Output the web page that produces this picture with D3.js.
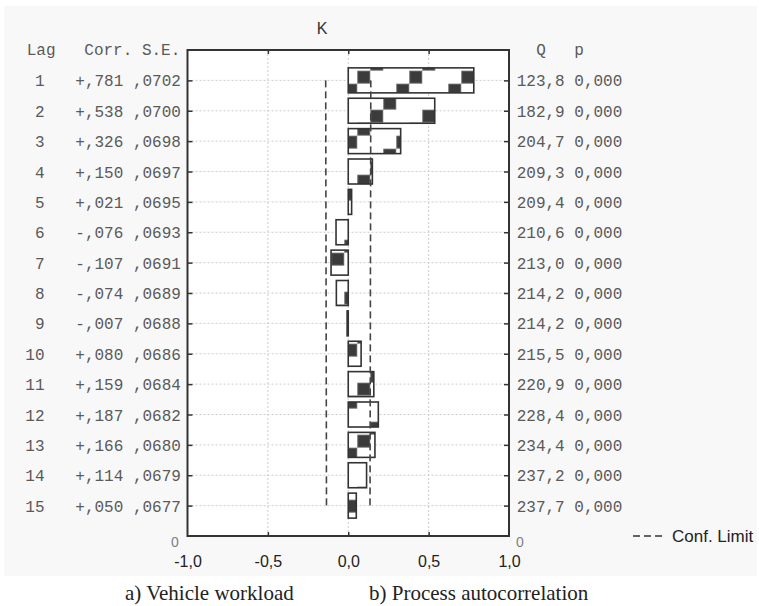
<!DOCTYPE html>
<meta charset="utf-8">
<style>
body {
	margin: 0;
	background: #fff;
}
svg {
	display: block;
}
.mono {
	font: 16px "Liberation Mono", "Courier New", monospace;
	fill: #5a5a5a;
}
.axis path {
	display: none;
}
.axis line {
	stroke: #333;
	stroke-width: 1.5;
}
.x.axis .tick text {
	font: 16px "Liberation Sans", Arial, sans-serif;
	fill: #222;
}
.grid line {
	stroke: #ccc;
	stroke-width: 1;
	stroke-dasharray: 2,2;
}
.zero {
	font: 14px "Liberation Sans", Arial, sans-serif;
	fill: #808080;
}
</style>
<body>
<svg></svg>
<script src="https://d3js.org/d3.v7.min.js"></script>
<script>

var lags = [1, 2, 3, 4, 5, 6, 7, 8, 9, 10, 11, 12, 13, 14, 15];
var corr = [0.781, 0.538, 0.326, 0.150, 0.021, -0.076, -0.107, -0.074, -0.007, 0.080, 0.159, 0.187, 0.166, 0.114, 0.050];
var se = [0.0702, 0.0700, 0.0698, 0.0697, 0.0695, 0.0693, 0.0691, 0.0689, 0.0688, 0.0686, 0.0684, 0.0682, 0.0680, 0.0679, 0.0677];
var qstat = [123.8, 182.9, 204.7, 209.3, 209.4, 210.6, 213.0, 214.2, 214.2, 215.5, 220.9, 228.4, 234.4, 237.2, 237.7];
var pval = [0, 0, 0, 0, 0, 0, 0, 0, 0, 0, 0, 0, 0, 0, 0];
var xticks = [-1, -0.5, 0, 0.5, 1];

var width = 759, height = 606;
var plot = {left: 187.5, right: 509, top: 50, bottom: 536};

var svg = d3.select("svg")
	.attr("width", width)
	.attr("height", height);

var xscale = d3.scaleLinear()
	.domain([-1, 1])
	.range([plot.left, plot.right]);

// lag positions: 16 slots, lag 1 on top
var yscale = d3.scaleLinear()
	.domain([0, 16])
	.range([plot.top, plot.bottom]);
var ylag = function(l) { return yscale(l); };

var comma = function(s) { return s.replace(".", ",").replace("\u2212", "-"); };

// grey panel behind the chart
svg.append("rect")
	.attr("x", 4).attr("y", 6)
	.attr("width", 753).attr("height", 570)
	.attr("fill", "#f8f8f8");

// plot area
svg.append("rect")
	.attr("x", plot.left).attr("y", plot.top)
	.attr("width", plot.right - plot.left)
	.attr("height", plot.bottom - plot.top)
	.attr("fill", "#fff");

// pattern for the bars: dark squares on a diagonal
var cell = 13;
var defs = svg.append("defs");
var pat = defs.append("pattern")
	.attr("id", "checks")
	.attr("patternUnits", "userSpaceOnUse")
	.attr("x", xscale(0) + 9)
	.attr("y", ylag(1) - 9.7)
	.attr("width", cell * 4)
	.attr("height", cell * 4);
pat.append("rect")
	.attr("width", cell * 4).attr("height", cell * 4)
	.attr("fill", "#fff");
[[0, 0], [1, 3], [2, 2], [3, 1]].forEach(function(c) {
	pat.append("rect")
		.attr("x", c[0] * cell + 0.5).attr("y", c[1] * cell + 0.5)
		.attr("width", cell - 1).attr("height", cell - 1)
		.attr("fill", "#3b3b3b")
		.attr("stroke", "#666")
		.attr("stroke-width", 1);
});

// grid
var grid = svg.append("g").attr("class", "grid");
grid.selectAll(".h")
	.data(lags)
	.enter().append("line")
	.attr("x1", plot.left).attr("x2", plot.right)
	.attr("y1", function(d) { return ylag(d); })
	.attr("y2", function(d) { return ylag(d); });
grid.selectAll(".v")
	.data([-0.5, 0, 0.5])
	.enter().append("line")
	.attr("x1", function(d) { return xscale(d); })
	.attr("x2", function(d) { return xscale(d); })
	.attr("y1", plot.top).attr("y2", plot.bottom);

// bars
svg.selectAll(".bar")
	.data(corr)
	.enter().append("rect")
	.attr("class", "bar")
	.attr("x", function(d) { return xscale(Math.min(0, d)); })
	.attr("width", function(d) { return Math.max(1, Math.abs(xscale(d) - xscale(0))); })
	.attr("y", function(d, i) { return ylag(lags[i]) - 12.5; })
	.attr("height", 25)
	.attr("fill", "url(#checks)")
	.attr("stroke", "#333")
	.attr("stroke-width", 1.6);

// confidence limits
var confLine = d3.line()
	.x(function(d) { return xscale(d[0]); })
	.y(function(d) { return ylag(d[1]) ; });
[1, -1].forEach(function(s) {
	svg.append("path")
		.attr("d", confLine(se.map(function(v, i) { return [s * 2 * v, lags[i]]; })))
		.attr("fill", "none")
		.attr("stroke", "#444")
		.attr("stroke-width", 1.6)
		.attr("stroke-dasharray", "7,4");
});

// axes
var xaxis = d3.axisBottom(xscale)
	.tickValues(xticks)
	.tickSize(-4)
	.tickPadding(20)
	.tickFormat(function(d) { return comma(d3.format(".1f")(d)); });
svg.append("g")
	.attr("class", "x axis")
	.attr("transform", "translate(0," + plot.bottom + ")")
	.call(xaxis)
	.selectAll(".tick line").filter(function(d) { return d == -1 || d == 1; }).remove();

svg.append("g")
	.attr("class", "x axis")
	.attr("transform", "translate(0," + plot.top + ")")
	.call(d3.axisTop(xscale).tickValues([-0.5, 0, 0.5]).tickSize(-4).tickFormat(""));

svg.append("g")
	.attr("class", "y axis")
	.attr("transform", "translate(" + plot.left + ",0)")
	.call(d3.axisLeft(yscale).tickValues(lags).tickSize(-5).tickFormat(""));

svg.append("g")
	.attr("class", "y axis")
	.attr("transform", "translate(" + plot.right + ",0)")
	.call(d3.axisRight(yscale).tickValues(lags).tickSize(-5).tickFormat(""));

// frame
svg.append("rect")
	.attr("x", plot.left).attr("y", plot.top)
	.attr("width", plot.right - plot.left)
	.attr("height", plot.bottom - plot.top)
	.attr("fill", "none")
	.attr("stroke", "#333")
	.attr("stroke-width", 2);

// table on the left
svg.append("text").attr("class", "mono")
	.attr("x", 26.7).attr("y", 55)
	.text("Lag");
svg.append("text").attr("class", "mono")
	.attr("x", 84.3).attr("y", 55)
	.text("Corr. S.E.");

svg.selectAll(".lag")
	.data(lags)
	.enter().append("text")
	.attr("class", "mono")
	.attr("text-anchor", "end")
	.attr("x", 44.5)
	.attr("y", function(d) { return ylag(d) + 6; })
	.text(function(d) { return d; });

svg.selectAll(".corr")
	.data(corr)
	.enter().append("text")
	.attr("class", "mono")
	.attr("x", 75.3)
	.attr("y", function(d, i) { return ylag(lags[i]) + 6; })
	.text(function(d, i) {
		var c = (d < 0 ? "-" : "+") + comma(d3.format(".3f")(Math.abs(d))).slice(1);
		var s = comma(d3.format(".4f")(se[i])).slice(1);
		return c + " " + s;
	});

// table on the right
svg.append("text").attr("class", "mono")
	.attr("x", 541).attr("y", 55)
	.attr("text-anchor", "middle")
	.text("Q");
svg.append("text").attr("class", "mono")
	.attr("x", 579).attr("y", 55)
	.attr("text-anchor", "middle")
	.text("p");

svg.selectAll(".q")
	.data(qstat)
	.enter().append("text")
	.attr("class", "mono")
	.attr("x", 516.7)
	.attr("y", function(d, i) { return ylag(lags[i]) + 6; })
	.text(function(d, i) {
		return comma(d3.format(".1f")(d)) + " " + comma(d3.format(".3f")(pval[i]));
	});

// zero labels of the lag axis
svg.selectAll(".zero")
	.data([175, 520])
	.enter().append("text")
	.attr("class", "zero")
	.attr("x", function(d) { return d; })
	.attr("y", plot.bottom + 11)
	.attr("text-anchor", "middle")
	.text("0");

// title
svg.append("text")
	.attr("x", 322).attr("y", 33.5)
	.attr("text-anchor", "middle")
	.style("font", "16px 'Liberation Sans', Arial, sans-serif")
	.style("fill", "#333")
	.text("K");

// legend
svg.append("line")
	.attr("x1", 633).attr("x2", 662)
	.attr("y1", plot.bottom).attr("y2", plot.bottom)
	.attr("stroke", "#333")
	.attr("stroke-width", 1.5)
	.attr("stroke-dasharray", "7,4");
svg.append("text")
	.attr("x", 672).attr("y", plot.bottom + 6)
	.style("font", "17px 'Liberation Sans', Arial, sans-serif")
	.style("fill", "#222")
	.text("Conf. Limit");

// captions
svg.append("text")
	.attr("x", 125).attr("y", 600)
	.style("font", "21px 'Liberation Serif', 'Times New Roman', serif")
	.style("fill", "#222")
	.text("a) Vehicle workload");
svg.append("text")
	.attr("x", 369).attr("y", 600)
	.style("font", "21px 'Liberation Serif', 'Times New Roman', serif")
	.style("fill", "#222")
	.text("b) Process autocorrelation");

</script>
</body>
